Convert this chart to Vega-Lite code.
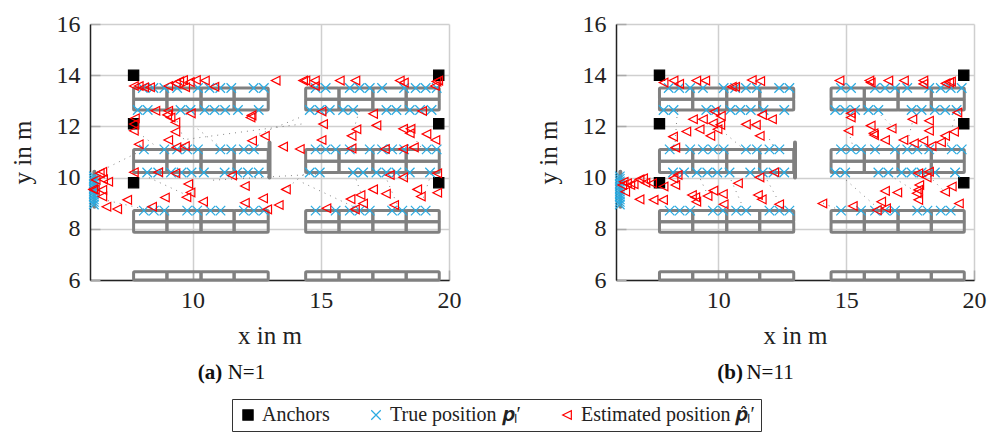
{"$schema":"https://vega.github.io/schema/vega-lite/v6.json","autosize":{"type":"none"},"padding":{"left":90,"top":24,"right":897,"bottom":408},"background":"white","bounds":"flush","spacing":167,
"resolve":{"legend":{"shape":"shared","stroke":"shared","fill":"shared","size":"shared"}},
"config":{"view":{"stroke":null},"font":"Liberation Serif","legend":{"orient":"none","legendX":142,"legendY":375,"title":null,"direction":"horizontal","columns":3,"padding":6,"strokeColor":"#333333","labelFont":"Liberation Serif","labelFontSize":20,"labelColor":"#222","labelLimit":320,"columnPadding":36,"symbolStrokeWidth":1.2},"axis":{"labelFont":"Liberation Serif","titleFont":"Liberation Serif","labelFontSize":24,"titleFontSize":25,"titleFontWeight":"normal","labelColor":"#222","titleColor":"#222","grid":true,"gridColor":"#cfcfcf","gridWidth":1.5,"tickColor":"#aaaaaa","tickSize":-10,"tickWidth":1.5,"domainColor":"#222","domainWidth":1.5,"labelFlush":false,"labelOverlap":false},"axisX":{"labelPadding":18,"titlePadding":11},"axisY":{"labelPadding":20,"titlePadding":21}},
"datasets":{
"anchors":[{"x":7.7,"y":14},{"x":19.6,"y":14},{"x":7.7,"y":12.1},{"x":19.6,"y":12.1},{"x":7.7,"y":9.8},{"x":19.6,"y":9.8}],
"walls":[
{"a":7.7,"b":9.0,"c":13.06,"d":13.5},{"a":9.0,"b":10.33,"c":13.06,"d":13.5},{"a":10.33,"b":11.62,"c":13.06,"d":13.5},{"a":11.62,"b":12.95,"c":13.06,"d":13.5},{"a":14.41,"b":15.71,"c":13.06,"d":13.5},{"a":15.71,"b":17.03,"c":13.06,"d":13.5},{"a":17.03,"b":18.33,"c":13.06,"d":13.5},{"a":18.33,"b":19.62,"c":13.06,"d":13.5},
{"a":7.7,"b":9.0,"c":12.64,"d":13.06},{"a":9.0,"b":10.33,"c":12.64,"d":13.06},{"a":10.33,"b":11.62,"c":12.64,"d":13.06},{"a":11.62,"b":12.95,"c":12.64,"d":13.06},{"a":14.41,"b":15.71,"c":12.64,"d":13.06},{"a":15.71,"b":17.03,"c":12.64,"d":13.06},{"a":17.03,"b":18.33,"c":12.64,"d":13.06},{"a":18.33,"b":19.62,"c":12.64,"d":13.06},
{"a":7.7,"b":9.0,"c":10.64,"d":11.1},{"a":9.0,"b":10.33,"c":10.64,"d":11.1},{"a":10.33,"b":11.62,"c":10.64,"d":11.1},{"a":11.62,"b":12.95,"c":10.64,"d":11.1},{"a":14.41,"b":15.71,"c":10.64,"d":11.1},{"a":15.71,"b":17.03,"c":10.64,"d":11.1},{"a":17.03,"b":18.33,"c":10.64,"d":11.1},{"a":18.33,"b":19.62,"c":10.64,"d":11.1},
{"a":7.7,"b":9.0,"c":10.2,"d":10.64},{"a":9.0,"b":10.33,"c":10.2,"d":10.64},{"a":10.33,"b":11.62,"c":10.2,"d":10.64},{"a":11.62,"b":12.95,"c":10.2,"d":10.64},{"a":14.41,"b":15.71,"c":10.2,"d":10.64},{"a":15.71,"b":17.03,"c":10.2,"d":10.64},{"a":17.03,"b":18.33,"c":10.2,"d":10.64},{"a":18.33,"b":19.62,"c":10.2,"d":10.64},
{"a":7.7,"b":9.0,"c":8.28,"d":8.71},{"a":9.0,"b":10.33,"c":8.28,"d":8.71},{"a":10.33,"b":11.62,"c":8.28,"d":8.71},{"a":11.62,"b":12.95,"c":8.28,"d":8.71},{"a":14.41,"b":15.71,"c":8.28,"d":8.71},{"a":15.71,"b":17.03,"c":8.28,"d":8.71},{"a":17.03,"b":18.33,"c":8.28,"d":8.71},{"a":18.33,"b":19.62,"c":8.28,"d":8.71},
{"a":7.7,"b":9.0,"c":7.87,"d":8.28},{"a":9.0,"b":10.33,"c":7.87,"d":8.28},{"a":10.33,"b":11.62,"c":7.87,"d":8.28},{"a":11.62,"b":12.95,"c":7.87,"d":8.28},{"a":14.41,"b":15.71,"c":7.87,"d":8.28},{"a":15.71,"b":17.03,"c":7.87,"d":8.28},{"a":17.03,"b":18.33,"c":7.87,"d":8.28},{"a":18.33,"b":19.62,"c":7.87,"d":8.28},
{"a":7.7,"b":9.0,"c":6,"d":6.32},{"a":9.0,"b":10.33,"c":6,"d":6.32},{"a":10.33,"b":11.62,"c":6,"d":6.32},{"a":11.62,"b":12.95,"c":6,"d":6.32},{"a":14.41,"b":15.71,"c":6,"d":6.32},{"a":15.71,"b":17.03,"c":6,"d":6.32},{"a":17.03,"b":18.33,"c":6,"d":6.32},{"a":18.33,"b":19.62,"c":6,"d":6.32}],
"bars":[{"x":13,"y":10,"y2":11.37},{"x":6.17,"y":8.86,"y2":10.23}],
"true":[
{"x":8.06,"y":13.5},{"x":8.47,"y":13.5},{"x":8.9,"y":13.5},{"x":9.4,"y":13.5},{"x":10.21,"y":13.5},{"x":10.66,"y":13.5},{"x":11.08,"y":13.5},{"x":11.51,"y":13.5},{"x":12.38,"y":13.5},{"x":12.78,"y":13.5},
{"x":7.86,"y":12.64},{"x":8.25,"y":12.64},{"x":9.53,"y":12.64},{"x":9.92,"y":12.64},{"x":10.47,"y":12.64},{"x":10.86,"y":12.64},{"x":11.27,"y":12.64},{"x":11.77,"y":12.64},{"x":12.58,"y":12.64},
{"x":8.1,"y":11.1},{"x":8.9,"y":11.1},{"x":9.4,"y":11.1},{"x":9.79,"y":11.1},{"x":10.21,"y":11.1},{"x":11.08,"y":11.1},{"x":11.51,"y":11.1},{"x":12.0,"y":11.1},{"x":12.39,"y":11.1},
{"x":8.23,"y":10.2},{"x":8.66,"y":10.2},{"x":9.16,"y":10.2},{"x":9.57,"y":10.2},{"x":9.96,"y":10.2},{"x":10.44,"y":10.2},{"x":11.25,"y":10.2},{"x":11.74,"y":10.2},{"x":12.16,"y":10.2},{"x":12.58,"y":10.2},
{"x":8.1,"y":8.71},{"x":8.49,"y":8.71},{"x":8.9,"y":8.71},{"x":9.79,"y":8.71},{"x":10.18,"y":8.71},{"x":10.7,"y":8.71},{"x":11.09,"y":8.71},{"x":12.0,"y":8.71},{"x":12.39,"y":8.71},{"x":12.78,"y":8.71},
{"x":14.8,"y":13.5},{"x":15.19,"y":13.5},{"x":16.13,"y":13.5},{"x":16.52,"y":13.5},{"x":16.91,"y":13.5},{"x":17.39,"y":13.5},{"x":18.25,"y":13.5},{"x":18.7,"y":13.5},{"x":19.09,"y":13.5},{"x":19.52,"y":13.5},
{"x":14.57,"y":12.64},{"x":14.96,"y":12.64},{"x":15.35,"y":12.64},{"x":15.87,"y":12.64},{"x":16.26,"y":12.64},{"x":17.56,"y":12.64},{"x":17.95,"y":12.64},{"x":18.47,"y":12.64},{"x":18.87,"y":12.64},{"x":19.32,"y":12.64},
{"x":14.8,"y":11.1},{"x":15.19,"y":11.1},{"x":15.58,"y":11.1},{"x":16.13,"y":11.1},{"x":16.91,"y":11.1},{"x":17.39,"y":11.1},{"x":17.78,"y":11.1},{"x":18.25,"y":11.1},{"x":19.13,"y":11.1},{"x":19.52,"y":11.1},
{"x":14.57,"y":10.2},{"x":14.96,"y":10.2},{"x":16.26,"y":10.2},{"x":16.65,"y":10.2},{"x":17.17,"y":10.2},{"x":17.56,"y":10.2},{"x":17.95,"y":10.2},{"x":18.47,"y":10.2},{"x":19.26,"y":10.2},
{"x":14.8,"y":8.71},{"x":15.58,"y":8.71},{"x":16.13,"y":8.71},{"x":16.52,"y":8.71},{"x":16.91,"y":8.71},{"x":17.78,"y":8.71},{"x":18.18,"y":8.71},{"x":18.7,"y":8.71},{"x":19.09,"y":8.71},
{"x":6.15,"y":8.95},{"x":6.15,"y":9.05},{"x":6.15,"y":9.15},{"x":6.15,"y":9.25},{"x":6.15,"y":9.35},{"x":6.15,"y":9.45},{"x":6.15,"y":9.55},{"x":6.15,"y":9.65},{"x":6.15,"y":9.75},{"x":6.15,"y":9.85},{"x":6.15,"y":9.95},{"x":6.15,"y":10.05}],
"estA":[
{"x":7.71,"y":13.58},{"x":7.9,"y":13.58},{"x":8.11,"y":13.53},{"x":8.34,"y":13.53},{"x":9.05,"y":13.58},{"x":9.35,"y":13.68},{"x":9.48,"y":13.76},{"x":9.63,"y":13.81},{"x":9.71,"y":13.53},{"x":9.89,"y":13.73},{"x":10.13,"y":13.81},{"x":10.48,"y":13.79},{"x":10.85,"y":13.55},
{"x":8.55,"y":12.61},{"x":9.05,"y":12.61},{"x":9.01,"y":12.45},{"x":9.14,"y":12.35},{"x":9.93,"y":12.51},{"x":9.33,"y":12.16},{"x":9.33,"y":11.79},{"x":7.75,"y":12.32},{"x":7.71,"y":12.09},{"x":7.71,"y":11.83},{"x":9.05,"y":11.47},{"x":7.9,"y":11.3},{"x":9.37,"y":11.18},{"x":9.7,"y":11.23},{"x":12.32,"y":11.44},{"x":12.26,"y":12.35},{"x":12.3,"y":12.43},
{"x":13.24,"y":13.79},{"x":14.31,"y":13.79},{"x":14.4,"y":13.79},{"x":14.77,"y":13.79},{"x":14.77,"y":13.58},{"x":15.74,"y":13.79},{"x":16.35,"y":13.79},{"x":18.08,"y":13.79},{"x":18.24,"y":13.71},{"x":19.45,"y":13.58},{"x":19.51,"y":13.75},{"x":19.58,"y":13.79},{"x":15.03,"y":12.58},{"x":17.04,"y":12.49},{"x":18.95,"y":12.6},{"x":15.09,"y":12.09},{"x":17.17,"y":12.04},{"x":16.39,"y":11.89},{"x":16.2,"y":11.63},{"x":15.03,"y":11.47},{"x":18.21,"y":11.91},{"x":18.5,"y":11.91},{"x":18.47,"y":11.73},{"x":19.12,"y":11.7},{"x":19.47,"y":11.47},{"x":12.82,"y":11.63},{"x":13.53,"y":11.21},{"x":14.18,"y":11.12},{"x":16.2,"y":11.14},{"x":17.5,"y":11.12},{"x":18.21,"y":11.12},{"x":18.63,"y":11.18},
{"x":7.71,"y":10.21},{"x":8.66,"y":10.21},{"x":9.33,"y":10.17},{"x":11.54,"y":10.08},{"x":12.04,"y":9.67},{"x":9.83,"y":9.75},{"x":9.92,"y":9.42},{"x":9.76,"y":9.23},{"x":10.41,"y":9.06},{"x":12.04,"y":9.02},{"x":12.75,"y":9.19},{"x":13.36,"y":8.93},{"x":13.64,"y":9.54},{"x":12.91,"y":8.76},{"x":8.92,"y":9.22},{"x":8.42,"y":8.86},{"x":7.45,"y":9.13},{"x":7.06,"y":8.77},{"x":6.64,"y":8.86},{"x":6.48,"y":10.23},{"x":6.38,"y":10.17},{"x":6.22,"y":9.91},{"x":6.19,"y":9.52},{"x":6.48,"y":9.52},{"x":6.48,"y":9.26},{"x":6.71,"y":9.84},{"x":6.51,"y":9.93},{"x":6.12,"y":9.54},
{"x":15.22,"y":8.8},{"x":16.33,"y":8.76},{"x":16.16,"y":9.16},{"x":16.55,"y":9.32},{"x":16.65,"y":8.99},{"x":17.04,"y":9.54},{"x":17.54,"y":9.37},{"x":17.69,"y":10.1},{"x":18.21,"y":10.01},{"x":17.86,"y":8.93},{"x":18.76,"y":9.54},{"x":18.9,"y":9.26},{"x":19.54,"y":10.17},{"x":19.54,"y":9.41}],
"estB":[
{"x":7.86,"y":13.71},{"x":8.25,"y":13.79},{"x":8.47,"y":13.66},{"x":9.14,"y":13.79},{"x":9.49,"y":13.79},{"x":10.53,"y":13.55},{"x":10.66,"y":13.55},{"x":11.31,"y":13.81},{"x":11.64,"y":13.77},{"x":9.85,"y":12.58},{"x":10.1,"y":12.41},{"x":9.01,"y":12.28},{"x":9.4,"y":12.28},{"x":9.79,"y":12.12},{"x":10.08,"y":12.06},{"x":11.08,"y":12.08},{"x":11.47,"y":12.06},{"x":11.71,"y":12.45},{"x":12.1,"y":12.28},{"x":9.27,"y":11.89},{"x":9.97,"y":11.89},{"x":8.75,"y":11.8},{"x":8.23,"y":11.6},{"x":9.69,"y":11.63},{"x":11.62,"y":11.63},{"x":8.32,"y":11.17},
{"x":14.74,"y":13.79},{"x":15.91,"y":13.79},{"x":15.96,"y":13.71},{"x":16.65,"y":13.79},{"x":17.26,"y":13.79},{"x":18.02,"y":13.79},{"x":18.02,"y":13.66},{"x":18.89,"y":13.68},{"x":19.03,"y":13.72},{"x":19.1,"y":13.75},{"x":19.35,"y":12.54},{"x":15.18,"y":12.51},{"x":15.18,"y":12.35},{"x":17.59,"y":12.28},{"x":18.24,"y":12.22},{"x":15.09,"y":11.83},{"x":15.96,"y":12.03},{"x":16.78,"y":11.92},{"x":16.07,"y":11.73},{"x":16.09,"y":11.66},{"x":18.24,"y":11.83},{"x":19.22,"y":11.79},{"x":18.87,"y":11.63},{"x":16.52,"y":11.47},{"x":17.24,"y":11.47},{"x":17.65,"y":11.34},{"x":18.02,"y":11.44},{"x":18.71,"y":11.38},{"x":18.34,"y":11.23},
{"x":6.3,"y":9.84},{"x":6.24,"y":9.71},{"x":6.43,"y":9.78},{"x":6.56,"y":9.71},{"x":6.36,"y":9.45},{"x":6.69,"y":9.74},{"x":6.92,"y":9.93},{"x":7.06,"y":9.97},{"x":7.15,"y":9.8},{"x":7.41,"y":9.78},{"x":7.86,"y":9.65},{"x":8.25,"y":9.97},{"x":8.41,"y":10.1},{"x":8.32,"y":9.71},{"x":6.92,"y":9.15},{"x":7.47,"y":9.13},{"x":7.84,"y":9.13},{"x":8.97,"y":9.32},{"x":9.1,"y":9.23},{"x":9.14,"y":9.06},{"x":9.58,"y":9.28},{"x":9.81,"y":9.49},{"x":10.18,"y":9.36},{"x":10.21,"y":8.96},{"x":10.77,"y":9.78},{"x":11.61,"y":10.01},{"x":12.19,"y":10.21},{"x":11.55,"y":9.32},{"x":11.7,"y":9.15},{"x":12.38,"y":8.96},
{"x":14.07,"y":8.99},{"x":15.26,"y":8.89},{"x":16.2,"y":8.73},{"x":16.37,"y":9.06},{"x":16.56,"y":8.8},{"x":16.52,"y":9.48},{"x":17.0,"y":9.42},{"x":17.82,"y":10.17},{"x":17.86,"y":9.71},{"x":17.82,"y":9.52},{"x":17.76,"y":9.39},{"x":17.82,"y":9.13},{"x":18.24,"y":10.23},{"x":18.15,"y":10.01},{"x":18.87,"y":9.45},{"x":19.13,"y":9.65},{"x":19.41,"y":8.99}],
"linkA":[
{"x":9.8,"y":11.5,"x2":14.3,"y2":12.1},{"x":12.6,"y":11.7,"x2":14.3,"y2":12.4},{"x":14.3,"y":9.8,"x2":16.3,"y2":8.85},{"x":10.8,"y":9.9,"x2":15.1,"y2":10.15},{"x":6.5,"y":10.3,"x2":8.1,"y2":11.1},{"x":6.7,"y":9.1,"x2":8.2,"y2":8.75},{"x":7.7,"y":11.9,"x2":8.6,"y2":11.2},{"x":9.4,"y":12.2,"x2":9.8,"y2":11.1},{"x":10.2,"y":11.9,"x2":11.2,"y2":11.1},{"x":8.3,"y":10,"x2":9.8,"y2":9.3},{"x":14.3,"y":10.1,"x2":13.7,"y2":9.6},{"x":16.5,"y":12.6,"x2":16.2,"y2":11.6},{"x":18.9,"y":11.2,"x2":18.4,"y2":11.9},{"x":17.5,"y":10.1,"x2":18,"y2":8.9},{"x":19.3,"y":10.15,"x2":19,"y2":9.2},{"x":16.3,"y":10.15,"x2":16.6,"y2":9.3}],
"linkB":[
{"x":15,"y":9.9,"x2":16.1,"y2":8.93},{"x":10.3,"y":11.7,"x2":10.95,"y2":11.15},{"x":8.4,"y":12.6,"x2":8.3,"y2":11.2},{"x":12,"y":11.5,"x2":12.2,"y2":11.15},{"x":15.3,"y":11.1,"x2":15.1,"y2":11.8},{"x":16.2,"y":12.6,"x2":16.9,"y2":11.9},{"x":17.4,"y":11.4,"x2":17.6,"y2":12.2},{"x":18.9,"y":11.1,"x2":19.3,"y2":12.5},{"x":14.1,"y":9.0,"x2":14.7,"y2":8.75},{"x":9.2,"y":10.15,"x2":9.6,"y2":9.3},{"x":10.5,"y":9.9,"x2":10.9,"y2":9},{"x":11.8,"y":10.1,"x2":12.4,"y2":9},{"x":16.7,"y":10.1,"x2":17.8,"y2":9.4},{"x":18.4,"y":9.9,"x2":18.8,"y2":9.5}],
"capAb":[{"x":10.2,"y":2.38,"part":"(a)"}],"capAn":[{"x":11.37,"y":2.38,"part":"N=1"}],
"capBb":[{"x":9.96,"y":2.38,"part":"(b)"}],"capBn":[{"x":11.1,"y":2.38,"part":"N=11"}]
},
"hconcat":[
{"width":359,"height":256,"layer":[
{"data":{"name":"walls"},"mark":{"type":"rect","fill":"transparent","stroke":"#808080","strokeWidth":3,"cornerRadius":1,"strokeJoin":"round"},"encoding":{"x":{"field":"a","type":"quantitative","scale":{"domain":[6,20],"nice":false},"axis":{"values":[10,15,20],"title":"x in m","format":"d"}},"x2":{"field":"b"},"y":{"field":"c","type":"quantitative","scale":{"domain":[6,16],"nice":false},"axis":{"values":[6,8,10,12,14,16],"title":"y in m","format":"d"}},"y2":{"field":"d"}}},
{"data":{"name":"bars"},"mark":{"type":"rule","stroke":"#808080","strokeWidth":4,"strokeCap":"round"},"encoding":{"x":{"field":"x","type":"quantitative"},"y":{"field":"y","type":"quantitative"},"y2":{"field":"y2"}}},
{"data":{"name":"linkA"},"mark":{"type":"rule","stroke":"#666666","strokeWidth":0.8,"strokeDash":[1,5]},"encoding":{"x":{"field":"x","type":"quantitative"},"y":{"field":"y","type":"quantitative"},"x2":{"field":"x2"},"y2":{"field":"y2"}}},
{"data":{"name":"anchors"},"mark":{"type":"point","filled":false,"strokeWidth":1.2,"opacity":1},"encoding":{"x":{"field":"x","type":"quantitative"},"y":{"field":"y","type":"quantitative"},"shape":{"datum":"Anchors","type":"nominal","scale":{"domain":["Anchors","True position 𝒑ₗ′","Estimated position 𝒑̂ₗ′"],"range":["square","M-1,-1L1,1M-1,1L1,-1","M-1,0L1,-1L1,1Z"]}},"stroke":{"datum":"Anchors","type":"nominal","scale":{"domain":["Anchors","True position 𝒑ₗ′","Estimated position 𝒑̂ₗ′"],"range":["#000000","#29abe2","#ff0000"]}},"fill":{"datum":"Anchors","type":"nominal","scale":{"domain":["Anchors","True position 𝒑ₗ′","Estimated position 𝒑̂ₗ′"],"range":["#000000","transparent","transparent"]}},"size":{"datum":"Anchors","type":"nominal","scale":{"domain":["Anchors","True position 𝒑ₗ′","Estimated position 𝒑̂ₗ′"],"range":[105,75,100]}}}},
{"data":{"name":"true"},"mark":{"type":"point","filled":false,"strokeWidth":1.2,"opacity":1},"encoding":{"x":{"field":"x","type":"quantitative"},"y":{"field":"y","type":"quantitative"},"shape":{"datum":"True position 𝒑ₗ′","type":"nominal"},"stroke":{"datum":"True position 𝒑ₗ′","type":"nominal"},"fill":{"datum":"True position 𝒑ₗ′","type":"nominal"},"size":{"datum":"True position 𝒑ₗ′","type":"nominal"}}},
{"data":{"name":"estA"},"mark":{"type":"point","filled":false,"strokeWidth":1.2,"opacity":1},"encoding":{"x":{"field":"x","type":"quantitative"},"y":{"field":"y","type":"quantitative"},"shape":{"datum":"Estimated position 𝒑̂ₗ′","type":"nominal"},"stroke":{"datum":"Estimated position 𝒑̂ₗ′","type":"nominal"},"fill":{"datum":"Estimated position 𝒑̂ₗ′","type":"nominal"},"size":{"datum":"Estimated position 𝒑̂ₗ′","type":"nominal"}}},
{"data":{"name":"capAb"},"mark":{"type":"text","fontSize":21,"font":"Liberation Serif","fontWeight":"bold","align":"left","color":"#111"},"encoding":{"x":{"field":"x","type":"quantitative"},"y":{"field":"y","type":"quantitative"},"text":{"field":"part"}}},
{"data":{"name":"capAn"},"mark":{"type":"text","fontSize":21,"font":"Liberation Serif","fontWeight":"normal","align":"left","color":"#111"},"encoding":{"x":{"field":"x","type":"quantitative"},"y":{"field":"y","type":"quantitative"},"text":{"field":"part"}}}
]},
{"width":358,"height":256,"layer":[
{"data":{"name":"walls"},"mark":{"type":"rect","fill":"transparent","stroke":"#808080","strokeWidth":3,"cornerRadius":1,"strokeJoin":"round"},"encoding":{"x":{"field":"a","type":"quantitative","scale":{"domain":[6,20],"nice":false},"axis":{"values":[10,15,20],"title":"x in m","format":"d"}},"x2":{"field":"b"},"y":{"field":"c","type":"quantitative","scale":{"domain":[6,16],"nice":false},"axis":{"values":[6,8,10,12,14,16],"title":"y in m","format":"d"}},"y2":{"field":"d"}}},
{"data":{"name":"bars"},"mark":{"type":"rule","stroke":"#808080","strokeWidth":4,"strokeCap":"round"},"encoding":{"x":{"field":"x","type":"quantitative"},"y":{"field":"y","type":"quantitative"},"y2":{"field":"y2"}}},
{"data":{"name":"linkB"},"mark":{"type":"rule","stroke":"#666666","strokeWidth":0.8,"strokeDash":[1,5]},"encoding":{"x":{"field":"x","type":"quantitative"},"y":{"field":"y","type":"quantitative"},"x2":{"field":"x2"},"y2":{"field":"y2"}}},
{"data":{"name":"anchors"},"mark":{"type":"point","filled":false,"strokeWidth":1.2,"opacity":1},"encoding":{"x":{"field":"x","type":"quantitative"},"y":{"field":"y","type":"quantitative"},"shape":{"datum":"Anchors","type":"nominal","scale":{"domain":["Anchors","True position 𝒑ₗ′","Estimated position 𝒑̂ₗ′"],"range":["square","M-1,-1L1,1M-1,1L1,-1","M-1,0L1,-1L1,1Z"]}},"stroke":{"datum":"Anchors","type":"nominal","scale":{"domain":["Anchors","True position 𝒑ₗ′","Estimated position 𝒑̂ₗ′"],"range":["#000000","#29abe2","#ff0000"]}},"fill":{"datum":"Anchors","type":"nominal","scale":{"domain":["Anchors","True position 𝒑ₗ′","Estimated position 𝒑̂ₗ′"],"range":["#000000","transparent","transparent"]}},"size":{"datum":"Anchors","type":"nominal","scale":{"domain":["Anchors","True position 𝒑ₗ′","Estimated position 𝒑̂ₗ′"],"range":[105,75,100]}}}},
{"data":{"name":"true"},"mark":{"type":"point","filled":false,"strokeWidth":1.2,"opacity":1},"encoding":{"x":{"field":"x","type":"quantitative"},"y":{"field":"y","type":"quantitative"},"shape":{"datum":"True position 𝒑ₗ′","type":"nominal"},"stroke":{"datum":"True position 𝒑ₗ′","type":"nominal"},"fill":{"datum":"True position 𝒑ₗ′","type":"nominal"},"size":{"datum":"True position 𝒑ₗ′","type":"nominal"}}},
{"data":{"name":"estB"},"mark":{"type":"point","filled":false,"strokeWidth":1.2,"opacity":1},"encoding":{"x":{"field":"x","type":"quantitative"},"y":{"field":"y","type":"quantitative"},"shape":{"datum":"Estimated position 𝒑̂ₗ′","type":"nominal"},"stroke":{"datum":"Estimated position 𝒑̂ₗ′","type":"nominal"},"fill":{"datum":"Estimated position 𝒑̂ₗ′","type":"nominal"},"size":{"datum":"Estimated position 𝒑̂ₗ′","type":"nominal"}}},
{"data":{"name":"capBb"},"mark":{"type":"text","fontSize":21,"font":"Liberation Serif","fontWeight":"bold","align":"left","color":"#111"},"encoding":{"x":{"field":"x","type":"quantitative"},"y":{"field":"y","type":"quantitative"},"text":{"field":"part"}}},
{"data":{"name":"capBn"},"mark":{"type":"text","fontSize":21,"font":"Liberation Serif","fontWeight":"normal","align":"left","color":"#111"},"encoding":{"x":{"field":"x","type":"quantitative"},"y":{"field":"y","type":"quantitative"},"text":{"field":"part"}}}
]}
]}
